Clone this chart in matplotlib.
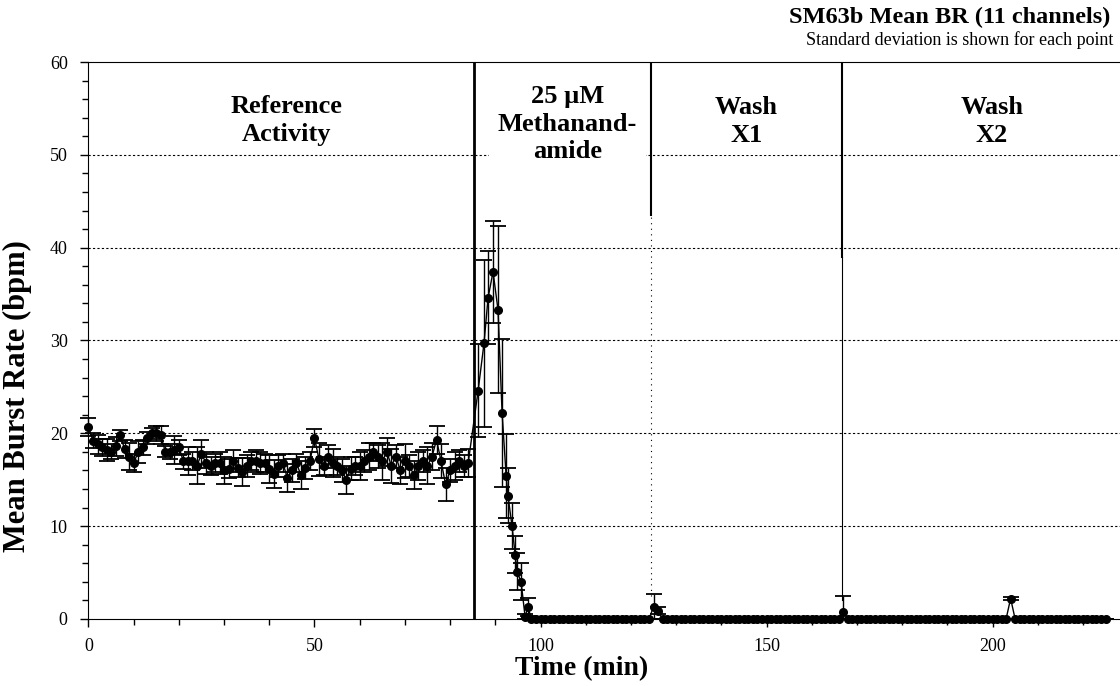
import numpy as np
import matplotlib.pyplot as plt
from matplotlib.ticker import MultipleLocator

plt.rcParams['font.family'] = ['Liberation Serif', 'DejaVu Serif']

# Reference activity, one value per minute (0..84)
base_time = np.arange(0, 85)
base_mean = [20.7, 19.2, 18.8, 18.5, 18.2, 18.0, 18.6, 19.8, 18.3, 17.5,
             16.8, 18.0, 18.5, 19.5, 20.0, 20.0, 19.8, 18.0, 18.0, 18.2,
             18.5, 17.0, 17.0, 17.0, 16.5, 17.8, 16.8, 16.5, 16.8, 16.8,
             16.0, 16.2, 17.0, 16.3, 15.8, 16.5, 17.0, 17.0, 16.8, 16.8,
             16.2, 15.6, 16.5, 16.8, 15.2, 16.0, 16.8, 15.5, 16.3, 17.0,
             19.5, 17.2, 16.5, 17.5, 16.8, 16.5, 16.0, 15.0, 16.2, 16.5,
             16.5, 17.0, 17.5, 18.0, 17.5, 17.0, 18.0, 16.5, 17.5, 16.0,
             17.0, 16.5, 15.5, 16.5, 17.0, 16.5, 17.5, 19.3, 17.0, 14.5,
             16.0, 16.5, 17.0, 16.5, 16.8]
base_sd = [1.0, 0.8, 1.0, 0.9, 1.2, 0.8, 1.0, 0.6, 1.0, 1.5,
           1.0, 1.2, 0.8, 0.6, 0.6, 0.8, 1.0, 0.6, 0.8, 1.5,
           0.8, 0.8, 1.5, 1.0, 2.0, 1.5, 1.2, 1.0, 1.0, 1.2,
           1.5, 1.0, 1.2, 1.0, 1.5, 1.2, 1.0, 1.2, 1.2, 1.0,
           1.5, 1.5, 1.2, 1.0, 1.5, 1.2, 1.0, 1.5, 1.2, 1.0,
           1.0, 1.8, 1.0, 1.2, 1.5, 1.0, 1.2, 1.5, 1.2, 1.0,
           1.5, 1.2, 1.5, 1.0, 1.2, 2.0, 1.5, 1.8, 1.2, 1.5,
           1.8, 1.2, 1.5, 1.5, 1.2, 2.0, 1.5, 1.5, 1.8, 1.8,
           1.2, 1.5, 1.2, 1.2, 1.5]

# Methanandamide response
drug_time = [86.2, 87.5, 88.4, 89.5, 90.6, 91.5, 92.4, 92.8, 93.7, 94.4,
             94.8, 95.7, 96.6, 97.2]
drug_mean = [24.6, 29.7, 34.6, 37.4, 33.3, 22.2, 15.4, 13.3, 10.0, 6.9,
             5.1, 4.0, 0.2, 1.3]
drug_sd = [5.0, 9.0, 5.0, 5.5, 9.0, 8.0, 4.5, 3.0, 2.5, 2.0,
           2.0, 2.0, 0.3, 1.0]

# Washes: activity stays at zero apart from a few small bumps
wash_time = np.arange(98, 226)
wash_mean = ([0.0] * 27 + [1.3, 0.9] + [0.0] * 40 + [0.8] + [0.0] * 36
             + [2.2] + [0.0] * 21)
wash_sd = ([0.0] * 27 + [1.4, 0.4] + [0.0] * 40 + [1.7] + [0.0] * 36
           + [0.2] + [0.0] * 21)

time = np.concatenate([base_time, drug_time, wash_time])
mean = np.concatenate([base_mean, drug_mean, wash_mean])
sd = np.concatenate([base_sd, drug_sd, wash_sd])
# bars are not drawn below the axis
err = [np.minimum(sd, mean), sd]

fig = plt.figure(figsize=(11.2, 6.86), dpi=100)
ax = fig.add_axes([0.079, 0.0977, 0.921, 0.8119])

# dotted grid
for g in [10, 20, 30, 40, 50]:
    ax.axhline(g, color='black', lw=0.8, ls=(0, (2, 2)), zorder=1)

ax.errorbar(time, mean, yerr=err, fmt='-o', color='black', ms=5.5, lw=1.0,
            elinewidth=1.0, capsize=6, capthick=1.3, zorder=3, clip_on=False)

# phase boundaries
ax.plot([85.3, 85.3], [0, 60], color='black', lw=2, zorder=2)
ax.plot([124.4, 124.4], [43.5, 60], color='black', lw=1.5, zorder=2)
ax.plot([124.4, 124.4], [2.5, 43.5], color='black', lw=0.8, ls=(0, (1, 4)), zorder=2)
ax.plot([166.7, 166.7], [39, 60], color='black', lw=1.5, zorder=2)
ax.plot([166.7, 166.7], [2, 39], color='black', lw=0.8, zorder=2)

lab = dict(ha='center', va='center', fontsize=19, fontweight='bold', zorder=4,
           linespacing=1.25,
           bbox=dict(facecolor='white', edgecolor='none', pad=6))
ax.text(43.7, 53.7, 'Reference\nActivity', **lab)
ax.text(106.0, 53.3, '25 \u00b5M\nMethanand-\namide', **lab)
ax.text(145.5, 53.6, 'Wash\nX1', **lab)
ax.text(199.8, 53.6, 'Wash\nX2', **lab)

ax.set_xlim(0, 228.2)
ax.set_ylim(0, 60)
ax.spines['right'].set_visible(False)
ax.xaxis.set_major_locator(MultipleLocator(50))
ax.xaxis.set_minor_locator(MultipleLocator(10))
ax.yaxis.set_major_locator(MultipleLocator(10))
ax.yaxis.set_minor_locator(MultipleLocator(2))
ax.tick_params(which='major', direction='out', length=6, width=1, labelsize=13)
ax.tick_params(which='minor', direction='out', length=4, width=1)
ax.tick_params(axis='x', pad=8)
ax.tick_params(axis='y', pad=9)

ax.set_xlabel('Time (min)', fontsize=20, fontweight='bold')
ax.xaxis.label.set_verticalalignment('center')
ax.xaxis.set_label_coords(109 / 228.2, -0.09)
ax.set_ylabel('Mean Burst Rate (bpm)', fontsize=22, fontweight='bold')
ax.yaxis.label.set_verticalalignment('center')
ax.yaxis.set_label_coords(-0.069, 0.40)

fig.text(0.991, 0.974, 'SM63b Mean BR (11 channels)', ha='right', va='center',
         fontsize=17.5, fontweight='bold')
fig.text(0.994, 0.942, 'Standard deviation is shown for each point', ha='right',
         va='center', fontsize=13)

fig.savefig('out.png', dpi=100)
